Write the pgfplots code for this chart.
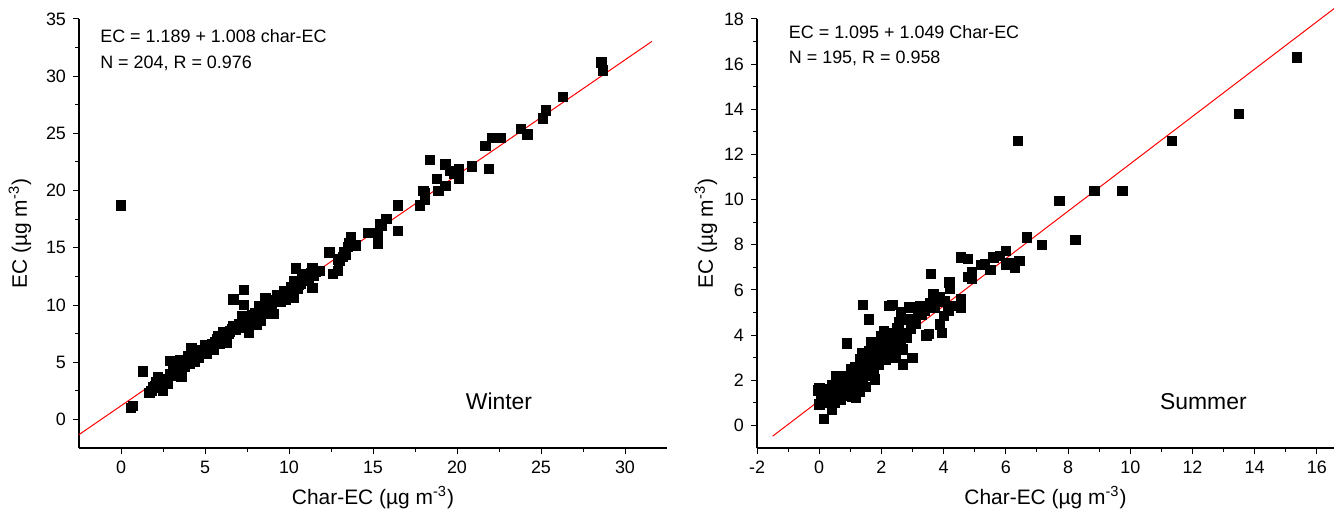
\documentclass[border=0pt]{standalone}
\usepackage{fontspec}
\setmainfont{Liberation Sans}
\usepackage{pgfplots}
\pgfplotsset{compat=1.18}

% winter and summer samples: char-EC vs EC
\pgfplotstableread{
x y
0.0 18.7
0.6 1.0
0.7 1.2
1.3 4.2
1.7 2.3
1.8 2.5
1.9 2.8
2.0 2.9
2.1 3.3
2.2 3.7
2.3 3.0
2.4 3.2
2.5 2.5
2.5 2.7
2.6 3.4
2.7 3.5
2.8 3.1
2.9 4.0
2.9 5.1
3.0 3.8
3.1 4.3
3.2 4.6
3.3 5.0
3.4 4.2
3.5 5.2
3.6 3.7
3.6 4.4
3.7 4.8
3.8 4.6
3.9 5.1
4.0 5.5
4.1 4.9
4.2 6.2
4.3 5.2
4.4 5.0
4.5 5.6
4.6 5.4
4.7 6.1
4.8 5.9
5.0 6.5
5.1 5.7
5.2 6.2
5.3 6.4
5.4 6.6
5.5 6.1
5.6 6.8
5.7 7.0
5.8 7.3
5.9 6.6
6.0 7.1
6.1 7.6
6.2 7.3
6.3 6.7
6.4 7.5
6.5 7.7
6.6 7.9
6.7 10.5
6.7 8.2
6.8 7.8
6.9 8.0
7.0 8.3
7.1 8.0
7.2 9.0
7.3 11.3
7.3 10.0
7.4 8.6
7.5 8.9
7.6 7.6
7.7 8.4
7.8 9.1
7.9 8.8
8.0 9.3
8.1 8.3
8.2 9.9
8.3 8.6
8.4 9.4
8.5 9.7
8.6 10.6
8.6 9.2
8.7 9.8
8.8 10.0
8.9 10.3
9.0 10.1
9.1 9.2
9.2 10.4
9.3 10.9
9.4 10.6
9.5 10.3
9.6 10.8
9.7 11.2
9.8 10.5
9.9 11.0
10.0 10.7
10.1 11.6
10.2 11.2
10.3 12.1
10.3 10.6
10.4 13.2
10.5 11.4
10.6 11.8
10.7 11.9
10.8 12.3
10.9 12.7
11.0 12.1
11.1 12.4
11.2 12.2
11.3 12.8
11.4 11.5
11.4 13.2
11.5 12.6
11.6 12.9
11.8 13.0
12.4 14.6
12.6 12.7
12.9 13.0
12.9 14.0
13.0 13.9
13.2 14.2
13.3 14.6
13.4 14.4
13.5 15.1
13.6 15.4
13.7 15.9
14.0 15.2
14.7 16.3
15.3 15.4
15.3 16.3
15.4 17.1
15.5 16.9
15.8 17.5
16.5 18.7
16.5 16.5
17.8 18.7
18.0 20.0
18.1 19.2
18.1 19.8
18.4 22.7
18.8 21.0
18.9 20.0
19.3 20.4
19.3 22.3
19.6 21.7
19.8 21.5
20.1 21.9
20.1 21.0
20.9 22.1
21.7 23.9
21.9 21.9
22.1 24.6
22.6 24.6
23.8 25.4
24.2 24.9
25.1 26.3
25.3 27.0
26.3 28.2
28.6 31.2
28.7 30.5
}\winter

\pgfplotstableread{
x y
-0.05 1.55
0.0 0.93
0.0 1.67
0.05 1.3
0.1 1.1
0.15 0.3
0.2 1.4
0.25 1.0
0.3 1.6
0.35 1.15
0.4 0.71
0.4 1.8
0.45 1.3
0.5 1.75
0.5 1.0
0.55 2.19
0.6 1.4
0.65 1.2
0.7 1.9
0.7 1.15
0.75 1.6
0.8 2.2
0.83 1.6
0.85 1.3
0.9 3.64
0.9 2.0
0.95 1.8
0.97 2.04
1.0 1.4
1.04 2.48
1.05 1.25
1.1 2.2
1.1 1.6
1.15 2.6
1.18 1.23
1.2 1.9
1.24 1.75
1.25 2.3
1.3 2.93
1.3 1.5
1.35 2.7
1.38 3.22
1.4 5.33
1.4 2.1
1.45 2.48
1.5 3.0
1.5 1.7
1.55 2.6
1.59 4.7
1.6 3.3
1.65 2.2
1.66 3.67
1.7 2.9
1.75 2.5
1.8 3.67
1.8 2.04
1.85 3.1
1.9 2.7
1.94 3.52
1.95 3.2
2.0 3.96
2.0 2.9
2.05 3.5
2.07 4.19
2.1 3.3
2.14 2.93
2.2 3.8
2.25 3.1
2.26 5.28
2.3 4.0
2.35 5.33
2.35 4.11
2.35 3.37
2.4 3.6
2.45 3.0
2.5 4.3
2.56 4.56
2.6 3.5
2.63 3.82
2.63 5.0
2.7 2.7
2.7 3.37
2.75 4.1
2.8 3.9
2.9 5.22
2.9 4.7
2.95 4.3
3.0 3.0
3.04 4.56
3.1 4.5
3.18 4.93
3.25 5.3
3.3 4.9
3.4 5.1
3.44 3.99
3.46 5.3
3.53 4.04
3.55 5.4
3.6 6.7
3.67 5.81
3.7 5.2
3.8 5.5
3.87 5.67
3.87 4.48
3.94 4.11
4.0 4.85
4.05 5.5
4.15 5.07
4.18 6.33
4.2 6.04
4.25 5.3
4.56 5.22
4.56 5.6
4.56 7.44
4.77 7.37
4.77 6.58
4.9 6.8
4.9 6.5
5.2 7.1
5.33 7.15
5.5 6.9
5.6 7.44
5.8 7.5
6.0 7.74
6.0 7.1
6.15 7.2
6.29 7.0
6.43 7.3
6.39 12.6
6.67 8.33
7.16 8.0
7.72 9.93
8.23 8.22
8.85 10.4
9.75 10.4
11.34 12.6
13.5 13.8
15.35 16.3
}\summer

\pgfplotsset{
  ecaxis/.style={
    scale only axis,
    height=214.5bp,
    axis x line*=bottom,
    axis y line*=left,
    tick align=outside,
    minor tick num=1,
    major tick length=3bp,
    minor tick length=2bp,
    tick style={black, line width=0.5pt},
    axis line style={black, line width=0.6pt},
    clip=false,
    /pgf/number format/assume math mode=true,
    ticklabel style={font=\fontsize{9}{10}\selectfont},
    label style={font=\fontsize{10.5}{12}\selectfont},
    xlabel={Char-EC (µg m\textsuperscript{-3})},
    ylabel={EC (µg m\textsuperscript{-3})},
    xlabel style={at={(axis description cs:0.5,0)}, anchor=center, yshift=-25bp},
  },
}

\begin{document}
\begin{tikzpicture}
\begin{axis}[ecaxis,
  at={(0,0)}, anchor=south west,
  width=294bp,
  xmin=-2.5, xmax=32.5, ymin=-2.5, ymax=35,
  xtick={0,5,...,30}, ytick={0,5,...,35},
  ylabel style={at={(axis description cs:0,0.5)}, anchor=center, yshift=29.5bp},
]
\addplot[red, line width=0.5pt] coordinates {(-2.5,-1.331) (31.6,33.04)};
\addplot[only marks, mark=square*, mark size=2.35pt, black] table {\winter};
\node[anchor=west, font=\fontsize{9}{10}\selectfont] at (axis cs:-1.65,33.5) {EC = 1.189 + 1.008 char-EC};
\node[anchor=west, font=\fontsize{9}{10}\selectfont] at (axis cs:-1.65,31.1) {N = 204, R = 0.976};
\node[font=\fontsize{11.5}{13}\selectfont] at (axis cs:22.5,1.6) {Winter};
\end{axis}

\begin{axis}[ecaxis,
  at={(339bp,0)}, anchor=south west,
  width=288.5bp,
  xmin=-2, xmax=16.55, ymin=-1, ymax=18,
  xtick={-2,0,...,16}, ytick={0,2,...,18},
  ylabel style={at={(axis description cs:0,0.5)}, anchor=center, yshift=25.5bp},
]
\addplot[red, line width=0.5pt] coordinates {(-1.5,-0.479) (17.0,18.93)};
\addplot[only marks, mark=square*, mark size=2.35pt, black] table {\summer};
\node[anchor=west, font=\fontsize{9}{10}\selectfont] at (axis cs:-1.2,17.4) {EC = 1.095 + 1.049 Char-EC};
\node[anchor=west, font=\fontsize{9}{10}\selectfont] at (axis cs:-1.2,16.25) {N = 195, R = 0.958};
\node[font=\fontsize{11.5}{13}\selectfont] at (axis cs:12.35,1.06) {Summer};
\end{axis}

\pgfresetboundingbox
\path[use as bounding box] (-39.5bp,-30.5bp) rectangle (627.5bp,224bp);
\end{tikzpicture}
\end{document}
